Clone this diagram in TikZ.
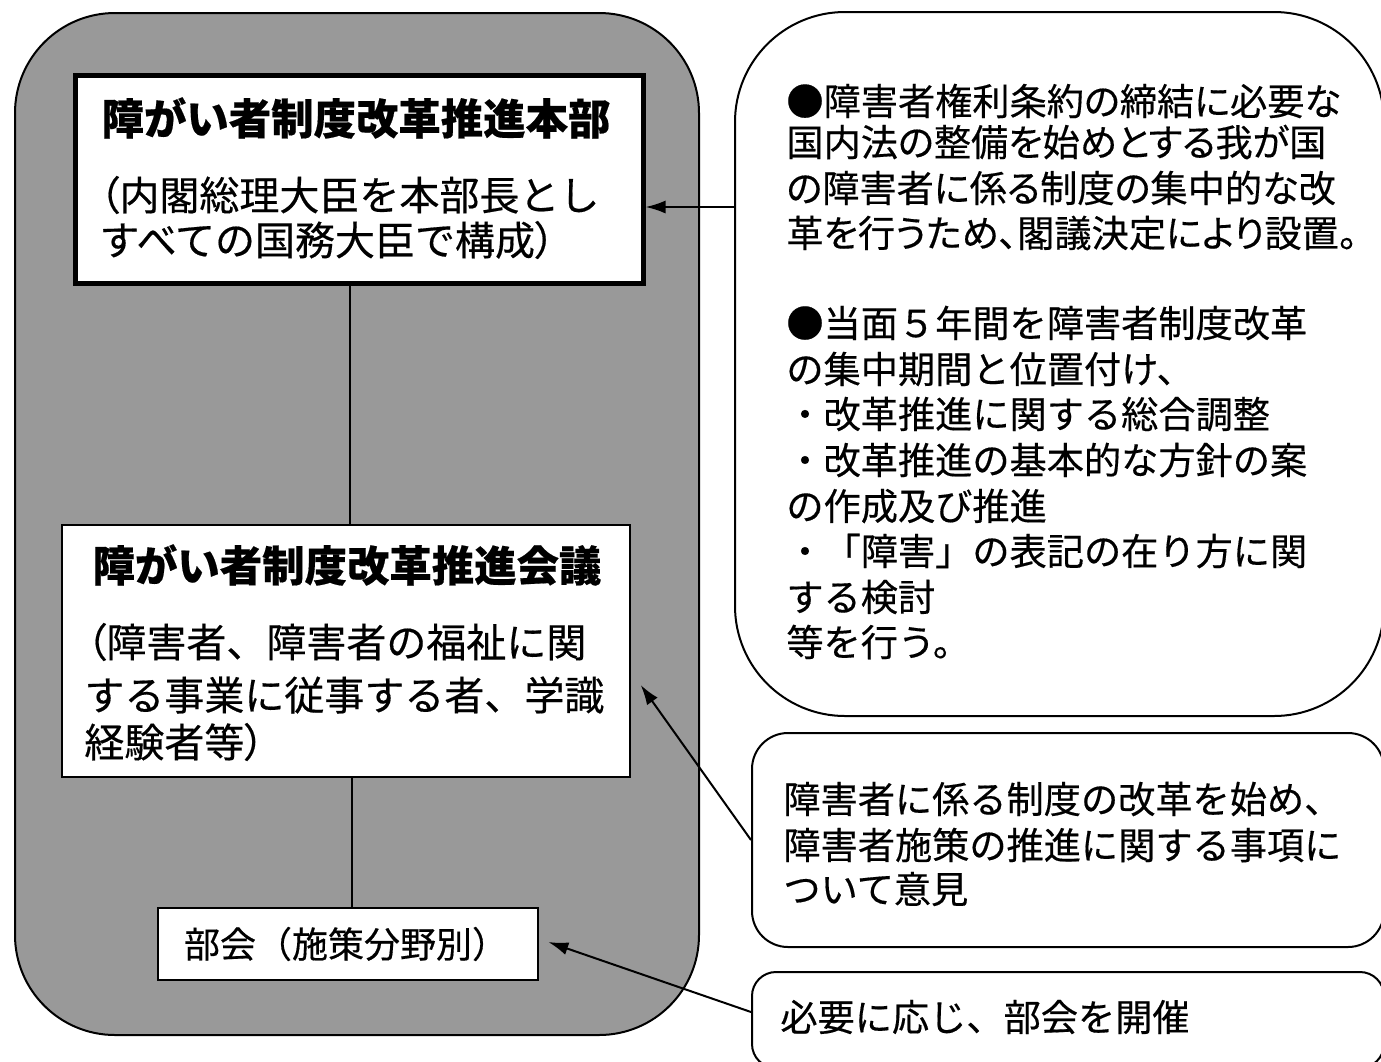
\documentclass[tikz,border=0pt]{standalone}
\usepackage{fontspec}
\newfontfamily\jp{Noto Sans CJK JP}[FakeBold=0.4]
\newfontfamily\jpp{Noto Sans CJK JP}[RawFeature=+palt,FakeBold=0.4]
\usetikzlibrary{arrows.meta}
\begin{document}
\begin{tikzpicture}[x=0.5pt,y=-0.5pt,
  panel/.style={draw=black,line width=1pt,fill=black!40,rounded corners=50pt,inner sep=0pt},
  whitebox/.style={fill=white,inner sep=0pt},
  callout/.style={draw=black,line width=1pt,fill=white,inner sep=0pt},
  ln/.style={anchor=west,inner sep=0pt,font=\jp\fontsize{18.6}{22}\selectfont},
  lnp/.style={anchor=west,inner sep=0pt,font=\jpp\fontsize{18.6}{22}\selectfont},
  bodyl/.style={anchor=west,inner sep=0pt,font=\jp\fontsize{20}{24}\selectfont},
  title/.style={anchor=center,inner sep=0pt,font=\jp\bfseries\fontsize{21.2}{24}\selectfont},
  conn/.style={line width=1pt},
  arr/.style={line width=1pt,-{Latex[length=10pt,width=6.5pt]}}
]
\useasboundingbox (0,0) rectangle (1381,1061);
\fill[white] (0,0) rectangle (1381,1061);

% left panel
\node[panel,minimum width=342pt,minimum height=511pt] (panel) at (357,524) {};

% boxes
\node[whitebox,draw=black,line width=2.5pt,minimum width=284pt,minimum height=104pt] (b1) at (359,179) {};
\node[whitebox,draw=black,line width=0.7pt,minimum width=284pt,minimum height=126pt] (b2) at (346,651) {};
\node[whitebox,draw=black,line width=1.3pt,minimum width=190pt,minimum height=36pt] (b3) at (348,944) {};

% connectors between boxes
\draw[conn] ([xshift=-4.5pt]b1.south) -- ([xshift=-4.5pt]b1.south |- b2.north);
\draw[conn] ([xshift=3pt]b2.south) -- ([xshift=3pt]b2.south |- b3.north);

% texts in box 1
\node[title] (b1t) at (356,118) {障がい者制度改革推進本部};
\node[bodyl] (b1a) at (99,195) {{\jpp （}内閣総理大臣を本部長とし};
\node[bodyl] (b1b) at (99,240) {すべての国務大臣で構成{\jpp ）}};

% texts in box 2
\node[title] (b2t) at (347,565) {障がい者制度改革推進会議};
\node[bodyl] (b2a) at (86,642) {{\jpp （}障害者、障害者の福祉に関};
\node[bodyl] (b2b) at (84,695) {する事業に従事する者、学識};
\node[bodyl] (b2c) at (84,742) {経験者等{\jpp ）}};

% text in box 3
\node[anchor=center,inner sep=0pt,font=\jp\fontsize{18}{22}\selectfont] (b3t) at (346,944) {部会（施策分野別）};

% right callouts
\node[callout,rounded corners=55pt,minimum width=324.5pt,minimum height=352pt] (r1) at (1059.5,364) {};
\node[callout,rounded corners=18pt,minimum width=316pt,minimum height=107pt] (r2) at (1068,840) {};
\node[callout,rounded corners=12pt,minimum width=316pt,minimum height=48pt] (r3) at (1068,1020) {};

\node[lnp] (r1a) at (786,101) {●障害者権利条約の締結に必要な};
\node[lnp] (r1b) at (786,142) {国内法の整備を始めとする我が国};
\node[lnp] (r1c) at (786,188) {の障害者に係る制度の集中的な改};
\node[lnp] (r1d) at (786,233) {革を行うため、閣議決定により設置。};
\node[ln] (r1e) at (786,323) {●当面５年間を障害者制度改革};
\node[ln] (r1f) at (786,369) {の集中期間と位置付け、};
\node[ln] (r1g) at (786,414) {・改革推進に関する総合調整};
\node[ln] (r1h) at (786,460) {・改革推進の基本的な方針の案};
\node[ln] (r1i) at (786,506) {の作成及び推進};
\node[ln] (r1j) at (786,551) {・「障害」の表記の在り方に関};
\node[ln] (r1k) at (786,597) {する検討};
\node[ln] (r1l) at (786,642) {等を行う。};

\node[ln] (r2a) at (783,799) {障害者に係る制度の改革を始め、};
\node[ln] (r2b) at (783,845) {障害者施策の推進に関する事項に};
\node[ln] (r2c) at (783,889) {ついて意見};

\node[ln] (r3a) at (780,1017) {必要に応じ、部会を開催};

% arrows
\coordinate (a1) at ([yshift=-14pt]b1.east);
\draw[arr] (r1.west |- a1) -- (a1);
\draw[arr] (r2.west) -- ([xshift=5pt,yshift=-17pt]b2.east);
\draw[arr] ([yshift=4pt]r3.west) -- ([xshift=4.5pt,yshift=1pt]b3.east);
\end{tikzpicture}
\end{document}
